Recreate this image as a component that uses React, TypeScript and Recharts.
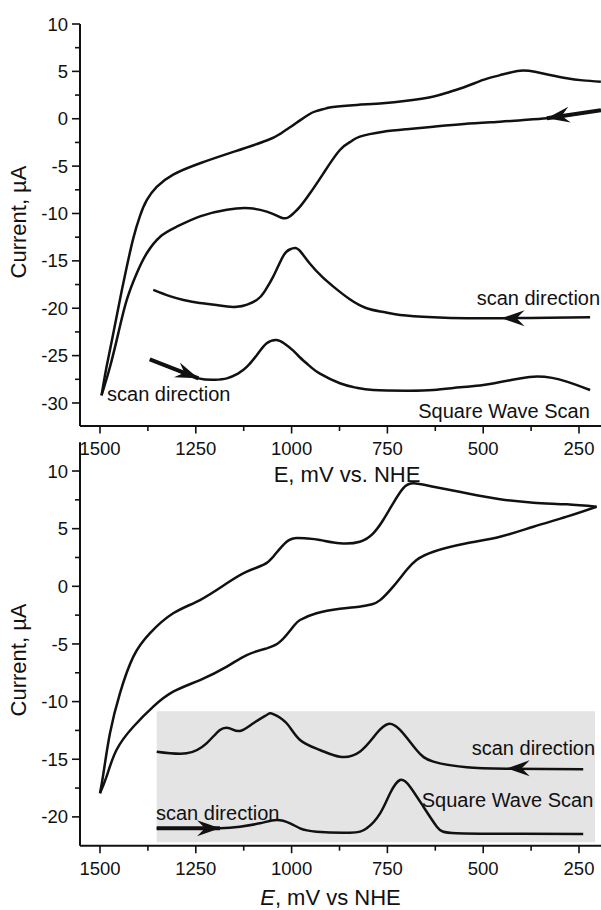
import React from "react";
import { LineChart, Line, XAxis, YAxis, ReferenceArea, ReferenceDot } from "recharts";

const FONT = "'Liberation Sans', Arial, Helvetica, sans-serif";
const INK = "#111";

// shared x ticks (mV vs NHE), minor ticks between the labelled ones
const xTicks = [1500, 1375, 1250, 1125, 1000, 875, 750, 625, 500, 375, 250];

// ---- top panel ----
const topYTicks = [-30, -27.5, -25, -22.5, -20, -17.5, -15, -12.5, -10, -7.5, -5, -2.5, 0, 2.5, 5, 7.5, 10];

// CV, outer branch (from the 1500 mV vertex to the right)
const topOuterE = [1496, 1483, 1465, 1448, 1430, 1413, 1396, 1378, 1352, 1309, 1239, 1152, 1065, 1030, 1000, 979, 955, 936, 910, 892, 830, 762, 700, 632, 590, 545, 500, 456, 404, 365, 326, 282, 240, 193];
const topOuterI = [-29.2, -26.2, -22.6, -19.1, -15.6, -12.6, -10.3, -8.6, -7.2, -5.9, -4.7, -3.5, -2.3, -1.6, -0.8, -0.2, 0.45, 0.8, 1.1, 1.25, 1.45, 1.63, 1.9, 2.33, 2.8, 3.4, 4.1, 4.6, 5.07, 4.95, 4.62, 4.27, 4.05, 3.9];

// CV, inner branch
const topInnerE = [1496, 1474, 1452, 1430, 1404, 1378, 1343, 1300, 1239, 1169, 1109, 1065, 1040, 1022, 1008, 995, 978, 952, 917, 874, 845, 822, 761, 700, 630, 550, 456, 400, 334, 280, 193];
const topInnerI = [-29.2, -26.2, -22.6, -19.1, -16.3, -14.2, -12.45, -11.4, -10.3, -9.6, -9.45, -9.8, -10.2, -10.5, -10.4, -9.98, -9.28, -7.87, -5.76, -3.3, -2.4, -1.89, -1.37, -1.1, -0.84, -0.55, -0.31, -0.15, 0.05, 0.35, 0.9];

// square wave scans
const topSw1E = [1361, 1320, 1282, 1240, 1196, 1143, 1091, 1070, 1048, 1022, 1005, 990, 975, 952, 920, 891, 850, 804, 760, 717, 630, 543, 450, 330, 221];
const topSw1I = [-18.07, -18.7, -19.13, -19.45, -19.66, -19.85, -19.13, -18.2, -16.67, -14.5, -13.8, -13.65, -14.1, -15.3, -16.7, -17.72, -19.0, -20.0, -20.4, -20.71, -20.95, -21.06, -21.05, -21.0, -20.96];

const topSw2E = [1370, 1306, 1243, 1200, 1169, 1140, 1117, 1090, 1065, 1040, 1020, 995, 978, 950, 926, 874, 830, 787, 700, 630, 560, 500, 430, 369, 320, 282, 221];
const topSw2I = [-25.4, -26.45, -27.4, -27.55, -27.4, -26.9, -26.2, -24.9, -23.7, -23.35, -23.7, -24.5, -25.2, -26.2, -26.9, -27.92, -28.4, -28.63, -28.7, -28.63, -28.35, -28.1, -27.6, -27.22, -27.35, -27.75, -28.63];

// thick arrow shafts
const topCvShaftE = [334, 193];
const topCvShaftI = [0.05, 0.9];
const topSwShaftE = [1370, 1243];
const topSwShaftI = [-25.4, -27.4];

// ---- bottom panel ----
const botYTicks = [-20, -17.5, -15, -12.5, -10, -7.5, -5, -2.5, 0, 2.5, 5, 7.5, 10];

const botUpperE = [1500, 1491, 1474, 1448, 1413, 1370, 1309, 1239, 1169, 1117, 1074, 1048, 1013, 985, 960, 926, 874, 822, 787, 761, 735, 709, 682, 630, 543, 456, 369, 282, 204];
const botUpperI = [-17.95, -16.22, -12.75, -9.28, -6.1, -4.08, -2.34, -1.19, 0.26, 1.27, 1.85, 2.57, 3.87, 4.2, 4.15, 4.02, 3.73, 3.87, 4.6, 5.75, 7.2, 8.5, 8.93, 8.64, 8.07, 7.55, 7.25, 7.11, 6.9];

const botLowerE = [204, 282, 369, 456, 543, 630, 674, 700, 735, 769, 790, 820, 874, 935, 978, 996, 1030, 1065, 1117, 1169, 1239, 1309, 1361, 1413, 1457, 1483, 1500];
const botLowerI = [6.9, 6.04, 5.17, 4.3, 3.73, 3.0, 2.28, 1.41, -0.03, -1.2, -1.55, -1.75, -1.95, -2.34, -2.92, -3.5, -4.8, -5.38, -5.96, -6.97, -8.13, -9.14, -10.44, -12.18, -14.2, -16.51, -17.95];

const botSw1E = [1352, 1274, 1222, 1187, 1161, 1135, 1100, 1065, 1048, 1013, 978, 926, 874, 822, 778, 748, 717, 674, 630, 543, 440, 239];
const botSw1I = [-14.35, -14.49, -13.62, -12.46, -12.32, -12.55, -11.88, -11.16, -11.08, -11.88, -13.33, -14.2, -14.78, -14.35, -12.75, -11.94, -12.46, -14.2, -15.21, -15.7, -15.82, -15.87];

const botSw2E = [1352, 1270, 1187, 1135, 1083, 1039, 1004, 978, 935, 848, 804, 769, 743, 717, 691, 656, 621, 569, 400, 239];
const botSw2I = [-20.99, -20.99, -20.99, -20.85, -20.56, -20.27, -20.56, -20.99, -21.28, -21.37, -20.99, -19.69, -17.95, -16.8, -17.38, -19.12, -20.85, -21.42, -21.46, -21.48];

const botSwShaftE = [1352, 1187];
const botSwShaftI = [-20.99, -20.99];

const pts = (es: number[], is: number[]) => es.map((E, i) => ({ E, I: is[i] }));

const XTick = (props: any) => {
  const { x, y, payload } = props;
  const v = payload.value;
  const major = v % 250 === 0;
  return (
    <g>
      <line x1={x} x2={x} y1={y} y2={y + (major ? 7.5 : 5)} stroke={INK} strokeWidth={1.6} />
      {major ? (
        <text x={x} y={y + 29} textAnchor="middle" fontSize={18.5} fontFamily={FONT} fill={INK}>
          {v}
        </text>
      ) : null}
    </g>
  );
};

const YTick = (props: any) => {
  const { x, y, payload } = props;
  const v = payload.value;
  const major = v % 5 === 0;
  return (
    <g>
      <line x1={x} x2={x - (major ? 8 : 5)} y1={y} y2={y} stroke={INK} strokeWidth={1.6} />
      {major ? (
        <text x={x - 12} y={y + 6.6} textAnchor="end" fontSize={18.5} fontFamily={FONT} fill={INK}>
          {v}
        </text>
      ) : null}
    </g>
  );
};

const arrowHead = (angle: number) => (props: any) => (
  <path
    d="M0,0 L-23,-8 L-15,0 L-23,8 Z"
    transform={`translate(${props.cx},${props.cy}) rotate(${angle})`}
    fill={INK}
  />
);

const note = (text: string) => (props: any) => (
  <text x={props.cx} y={props.cy} fontSize={20} fontFamily={FONT} fill={INK}>
    {text}
  </text>
);

const yTitle = (shift: number) => (props: any) => {
  const vb = props.viewBox || { x: 0, y: 0, width: 80, height: 400 };
  const cx = 25.7;
  const cy = vb.y + vb.height / 2 + shift;
  return (
    <text x={cx} y={cy} transform={`rotate(-90 ${cx} ${cy})`} textAnchor="middle" fontSize={22} fontFamily={FONT} fill={INK}>
      Current, µA
    </text>
  );
};

const xTitleTop = (props: any) => {
  const vb = props.viewBox;
  return (
    <text x={vb.x + vb.width / 2 + 6.5} y={vb.y + 55.7} textAnchor="middle" fontSize={22} fontFamily={FONT} fill={INK}>
      E, mV vs. NHE
    </text>
  );
};

const xTitleBottom = (props: any) => {
  const vb = props.viewBox;
  return (
    <text x={vb.x + vb.width / 2 - 10} y={vb.y + 59} textAnchor="middle" fontSize={22} fontFamily={FONT} fill={INK}>
      <tspan fontStyle="italic">E</tspan>, mV vs NHE
    </text>
  );
};

const axisLine = { stroke: INK, strokeWidth: 2 };
const X_DOMAIN: [number, number] = [192.6, 1552.2];

const curve = (key: string, data: any[], width = 2.5) => (
  <Line
    key={key}
    data={data}
    dataKey="I"
    type="natural"
    stroke={INK}
    strokeWidth={width}
    dot={false}
    activeDot={false}
    isAnimationActive={false}
  />
);

const App: React.FC = () => {
  return (
    <div style={{ position: "absolute", left: 0, top: 0, width: 601, height: 910 }}>
      <div style={{ position: "absolute", left: 0, top: 0 }}>
        <LineChart width={601} height={500} margin={{ top: 24, right: 0, bottom: 0, left: 0 }}>
          <XAxis
            dataKey="E"
            type="number"
            domain={X_DOMAIN}
            reversed
            allowDataOverflow
            ticks={xTicks}
            interval={0}
            tick={<XTick />}
            tickLine={false}
            tickSize={0}
            tickMargin={0}
            axisLine={axisLine}
            height={74}
            label={{ content: xTitleTop }}
          />
          <YAxis
            type="number"
            domain={[-32.43, 10]}
            allowDataOverflow
            ticks={topYTicks}
            interval={0}
            tick={<YTick />}
            tickLine={false}
            tickSize={0}
            tickMargin={0}
            axisLine={axisLine}
            width={80}
            label={{ content: yTitle(-3) }}
          />
          {curve("outer", pts(topOuterE, topOuterI))}
          {curve("inner", pts(topInnerE, topInnerI))}
          {curve("sw1", pts(topSw1E, topSw1I))}
          {curve("sw2", pts(topSw2E, topSw2I))}
          {curve("cvShaft", pts(topCvShaftE, topCvShaftI), 4)}
          {curve("swShaft", pts(topSwShaftE, topSwShaftI), 4)}
          <ReferenceDot x={334} y={0.05} r={0} ifOverflow="visible" shape={arrowHead(171)} />
          <ReferenceDot x={452} y={-21.06} r={0} ifOverflow="visible" shape={arrowHead(180)} />
          <ReferenceDot x={1243.5} y={-27.4} r={0} ifOverflow="visible" shape={arrowHead(21.5)} />
          <ReferenceDot x={1481.7} y={-29.79} r={0} ifOverflow="visible" shape={note("scan direction")} />
          <ReferenceDot x={517} y={-19.66} r={0} ifOverflow="visible" shape={note("scan direction")} />
          <ReferenceDot x={669.4} y={-31.58} r={0} ifOverflow="visible" shape={note("Square Wave Scan")} />
        </LineChart>
      </div>
      <div style={{ position: "absolute", left: 0, top: 430 }}>
        <LineChart width={601} height={480} margin={{ top: 12.2, right: 0, bottom: 0, left: 0 }}>
          <XAxis
            dataKey="E"
            type="number"
            domain={X_DOMAIN}
            reversed
            allowDataOverflow
            ticks={xTicks}
            interval={0}
            tick={<XTick />}
            tickLine={false}
            tickSize={0}
            tickMargin={0}
            axisLine={axisLine}
            height={64.3}
            label={{ content: xTitleBottom }}
          />
          <YAxis
            type="number"
            domain={[-22.5, 12.5]}
            allowDataOverflow
            ticks={botYTicks}
            interval={0}
            tick={<YTick />}
            tickLine={false}
            tickSize={0}
            tickMargin={0}
            axisLine={axisLine}
            width={80}
            label={{ content: yTitle(16) }}
          />
          <ReferenceArea x1={1352} x2={208} y1={-22.2} y2={-10.84} fill="#e4e4e4" fillOpacity={1} stroke="none" />
          {curve("upper", pts(botUpperE, botUpperI))}
          {curve("lower", pts(botLowerE, botLowerI))}
          {curve("sw1", pts(botSw1E, botSw1I))}
          {curve("sw2", pts(botSw2E, botSw2I))}
          {curve("swShaft", pts(botSwShaftE, botSwShaftI), 4)}
          <ReferenceDot x={438.7} y={-15.79} r={0} ifOverflow="visible" shape={arrowHead(180)} />
          <ReferenceDot x={1186.8} y={-20.99} r={0} ifOverflow="visible" shape={arrowHead(0)} />
          <ReferenceDot x={530} y={-14.63} r={0} ifOverflow="visible" shape={note("scan direction")} />
          <ReferenceDot x={660.5} y={-19.12} r={0} ifOverflow="visible" shape={note("Square Wave Scan")} />
          <ReferenceDot x={1353.9} y={-20.27} r={0} ifOverflow="visible" shape={note("scan direction")} />
        </LineChart>
      </div>
    </div>
  );
};

export default App;
